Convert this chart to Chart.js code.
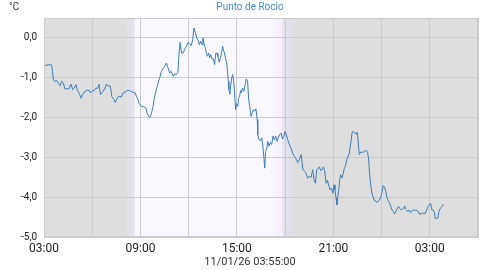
<!DOCTYPE html>
<html>
<head>
<meta charset="utf-8">
<script src="https://cdn.jsdelivr.net/npm/chart.js@4/dist/chart.umd.min.js"></script>
<style>
  body { margin: 0; background: #fff; }
  #wrap { width: 500px; height: 270px; position: relative; }
</style>
</head>
<body>
<div id="wrap"><canvas id="dewChart" width="500" height="270"></canvas></div>
<script>
// Dew point readings, minutes after 03:00 on 10/01/26
const minutes = [
  4, 26, 29, 35, 41, 47, 53, 60, 66, 72, 78, 84, 94, 101, 107, 113, 119, 125, 132, 139,
  144, 153, 161, 169, 174, 181, 187, 194, 200, 205, 211, 216, 221, 228, 233, 240, 246, 250, 253, 261,
  266, 271, 276, 283, 289, 295, 303, 310, 318, 325, 333, 340, 345, 351, 355, 364, 372, 380, 385, 391,
  396, 401, 407, 413, 420, 426, 432, 438, 444, 451, 457, 463, 469, 475, 482, 488, 494, 500, 504, 508,
  513, 519, 525, 531, 538,
  544, 550, 555, 560, 565, 570, 575, 580, 585, 590, 593, 597, 602, 606, 610, 615, 618, 622, 627, 632,
  637, 641, 646, 649, 654, 658, 662, 667, 670, 674, 678, 682, 685, 688, 690, 694, 696, 700, 704, 708,
  711, 715, 719, 723, 726, 730, 734, 737, 741, 746, 751, 755, 760, 764, 768, 773, 778, 782, 786, 791,
  796, 798, 803, 808, 813, 817, 821, 824, 827, 832, 835, 840, 845, 850, 855, 860, 865, 870, 875, 880,
  885, 890, 895, 900, 904, 910, 916, 922, 929, 935, 941, 947, 953, 960,
  966, 972, 978, 984, 991, 997, 1003, 1008, 1013, 1018, 1023, 1028, 1033, 1038, 1043, 1048, 1053, 1058, 1063, 1068,
  1073, 1078, 1083, 1086, 1090, 1093, 1096, 1100, 1104, 1107, 1112, 1117, 1121, 1125, 1130, 1135, 1140, 1143, 1147, 1150,
  1155, 1160, 1165, 1168, 1172, 1174, 1177, 1182, 1189, 1196, 1202, 1208, 1212, 1215, 1219, 1223, 1227, 1232, 1236, 1241,
  1246, 1251, 1256, 1261, 1266, 1271, 1276, 1280, 1284, 1289, 1294, 1299, 1304, 1309, 1313, 1318, 1323, 1328, 1333, 1338,
  1343, 1346, 1350, 1353, 1358, 1363, 1368, 1373, 1378, 1383, 1388, 1393, 1398, 1403, 1408, 1413, 1418, 1423, 1428, 1433,
  1438, 1443, 1448, 1453, 1458, 1460, 1465, 1470, 1474, 1479, 1484, 1489, 1491
];

const dewPoint = [
  -0.69, -0.67, -0.69, -1.05, -1.09, -1.07, -1.13, -1.20, -1.09, -1.13, -1.28, -1.28, -1.27, -1.16, -1.30, -1.26, -1.17, -1.32, -1.40, -1.52,
  -1.42, -1.34, -1.31, -1.32, -1.38, -1.32, -1.32, -1.26, -1.27, -1.16, -1.42, -1.38, -1.34, -1.26, -1.16, -1.21, -1.20, -1.30, -1.47, -1.55,
  -1.62, -1.55, -1.48, -1.47, -1.48, -1.38, -1.36, -1.32, -1.32, -1.34, -1.37, -1.38, -1.47, -1.55, -1.65, -1.72, -1.73, -1.76, -1.89, -1.97,
  -1.99, -1.90, -1.72, -1.47, -1.28, -1.13, -1.00, -0.84, -0.78, -0.71, -0.63, -0.75, -0.88, -0.84, -0.96, -0.90, -0.92, -0.86, -0.38, -0.11,
  -0.38, -0.38, -0.29, -0.21, -0.11,
  -0.14, -0.19, -0.04, 0.25, 0.13, 0.00, -0.06, -0.17, -0.08, -0.17, 0.00, -0.14, -0.25, -0.38, -0.46, -0.38, -0.50, -0.42, -0.53, -0.53,
  -0.67, -0.39, -0.38, -0.46, -0.61, -0.50, -0.42, -0.21, -0.31, -0.38, -0.54, -0.63, -0.84, -1.09, -1.30, -1.42, -1.26, -1.03, -0.92, -1.09,
  -1.34, -1.80, -1.65, -1.72, -1.53, -1.47, -1.32, -1.38, -1.26, -1.34, -1.17, -1.03, -1.09, -1.55, -1.72, -1.97, -1.87, -1.80, -1.84, -1.78,
  -2.05, -2.43, -2.56, -2.58, -2.51, -2.72, -3.02, -3.27, -2.85, -2.77, -2.60, -2.72, -2.62, -2.68, -2.46, -2.56, -2.47, -2.60, -2.49, -2.43,
  -2.39, -2.54, -2.47, -2.35, -2.43, -2.56, -2.68, -2.77, -2.91, -2.98, -3.04, -3.13, -3.06, -2.93,
  -3.29, -3.35, -3.40, -3.52, -3.48, -3.50, -3.31, -3.56, -3.65, -3.31, -3.29, -3.24, -3.33, -3.31, -3.24, -3.35, -3.65, -3.58, -3.71, -3.81,
  -3.77, -3.90, -3.69, -3.81, -4.02, -4.19, -4.02, -3.81, -3.56, -3.44, -3.52, -3.40, -3.27, -3.23, -3.06, -2.98, -2.89, -2.72, -2.56, -2.37,
  -2.35, -2.39, -2.41, -2.37, -2.51, -2.72, -2.93, -2.87, -2.87, -2.86, -2.82, -2.87, -3.06, -3.40, -3.65, -3.86, -3.97, -4.07, -4.08, -4.13,
  -4.11, -4.08, -4.02, -3.90, -3.71, -3.75, -3.86, -4.00, -4.08, -4.13, -4.22, -4.32, -4.36, -4.42, -4.36, -4.30, -4.23, -4.28, -4.32, -4.30,
  -4.28, -4.22, -4.30, -4.32, -4.36, -4.32, -4.39, -4.34, -4.32, -4.34, -4.32, -4.34, -4.36, -4.44, -4.40, -4.41, -4.40, -4.41, -4.32, -4.25,
  -4.19, -4.15, -4.32, -4.32, -4.40, -4.53, -4.53, -4.53, -4.36, -4.28, -4.25, -4.19, -4.19
];

// axis ticks: hours after 03:00 and degrees
const hourTicks = [0, 3, 6, 9, 12, 15, 18, 21, 24, 27];
const tempTicks = [-5, -4, -3, -2, -1, 0];

// twilight, in hours after 03:00 (dawn ~08:00-08:39, dusk ~17:51-18:42)
const dawnStart = 4.97, sunrise = 5.65, sunset = 14.85, duskEnd = 15.7;

const chartTitle = 'Punto de Rocio';
const unitLabel = '°C';
const stampLabel = '11/01/26 03:55:00';

const points = minutes.map((m, i) => ({ x: m / 60, y: dewPoint[i] }));

const NIGHT = '#dedede';
const DAY = '#faf8ff';

// day / night shading behind the grid, plus border and texts
const dayNightPlugin = {
  id: 'dayNight',
  beforeDraw(chart) {
    const { ctx, chartArea: a, scales: { x } } = chart;
    ctx.save();
    ctx.fillStyle = NIGHT;
    ctx.fillRect(a.left, a.top, a.right - a.left, a.bottom - a.top);

    const x0 = x.getPixelForValue(dawnStart);
    const x1 = x.getPixelForValue(sunrise);
    const x2 = x.getPixelForValue(sunset);
    const x3 = x.getPixelForValue(duskEnd);

    let g = ctx.createLinearGradient(x0, 0, x1, 0);
    g.addColorStop(0, NIGHT);
    g.addColorStop(1, '#e6e2f6');
    ctx.fillStyle = g;
    ctx.fillRect(x0, a.top, x1 - x0, a.bottom - a.top);

    g = ctx.createLinearGradient(x1, 0, x2, 0);
    g.addColorStop(0, DAY);
    g.addColorStop(0.92, DAY);
    g.addColorStop(1, '#f6eefd');
    ctx.fillStyle = g;
    ctx.fillRect(x1, a.top, x2 - x1, a.bottom - a.top);

    g = ctx.createLinearGradient(x2, 0, x3, 0);
    g.addColorStop(0, '#e4e1f6');
    g.addColorStop(1, NIGHT);
    ctx.fillStyle = g;
    ctx.fillRect(x2, a.top, x3 - x2, a.bottom - a.top);
    ctx.restore();
  },
  beforeDatasetsDraw(chart) {
    const { ctx, chartArea: a } = chart;
    ctx.save();
    ctx.strokeStyle = '#cbcbcb';
    ctx.lineWidth = 1;
    ctx.strokeRect(Math.round(a.left) + 0.5, Math.round(a.top) + 0.5,
      Math.round(a.right - a.left) - 1, Math.round(a.bottom - a.top) - 1);
    ctx.restore();
  },
  afterDraw(chart) {
    const { ctx } = chart;
    ctx.save();
    ctx.textBaseline = 'middle';
    ctx.textAlign = 'center';
    ctx.font = '10px Roboto, "DejaVu Sans", sans-serif';
    ctx.fillStyle = '#4a8ac6';
    ctx.fillText(chartTitle, 250, 7);
    ctx.textAlign = 'left';
    ctx.fillStyle = '#333';
    ctx.fillText(unitLabel, 9, 7);
    ctx.textAlign = 'center';
    ctx.font = '11px Roboto, "DejaVu Sans", sans-serif';
    ctx.fillText(stampLabel, 250, 262);
    ctx.restore();
  }
};

const ctx = document.getElementById('dewChart').getContext('2d');
const dewChart = new Chart(ctx, {
  type: 'line',
  data: {
    datasets: [{
      label: chartTitle,
      data: points,
      borderColor: '#3c7ebe',
      borderWidth: 1,
      pointRadius: 0,
      tension: 0,
      fill: false
    }]
  },
  options: {
    responsive: false,
    animation: false,
    layout: { padding: { top: 18, right: 22, left: 0, bottom: 0 } },
    plugins: {
      legend: { display: false },
      tooltip: { enabled: false }
    },
    scales: {
      x: {
        type: 'linear',
        min: 0,
        max: 27,
        afterBuildTicks: s => { s.ticks = hourTicks.map(v => ({ value: v })); },
        afterFit: s => { s.height = 33; },
        grid: { color: '#cbcbcb', drawTicks: false },
        border: { color: '#cbcbcb' },
        ticks: {
          padding: 5,
          maxRotation: 0,
          autoSkip: false,
          color: '#222',
          font: { family: 'Roboto, "DejaVu Sans", sans-serif', size: 12 },
          callback: v => {
            if (v % 6 !== 0) return '';
            const h = (3 + v) % 24;
            return String(h).padStart(2, '0') + ':00';
          }
        }
      },
      y: {
        min: -5,
        max: 0.5,
        afterBuildTicks: s => { s.ticks = tempTicks.map(v => ({ value: v })); },
        afterFit: s => { s.width = 44; },
        grid: { color: '#cbcbcb', drawTicks: false },
        border: { color: '#cbcbcb' },
        ticks: {
          padding: 7,
          color: '#222',
          font: { family: 'Roboto, "DejaVu Sans", sans-serif', size: 10 },
          callback: v => v.toFixed(1).replace('.', ',')
        }
      }
    }
  },
  plugins: [dayNightPlugin]
});
</script>
</body>
</html>
